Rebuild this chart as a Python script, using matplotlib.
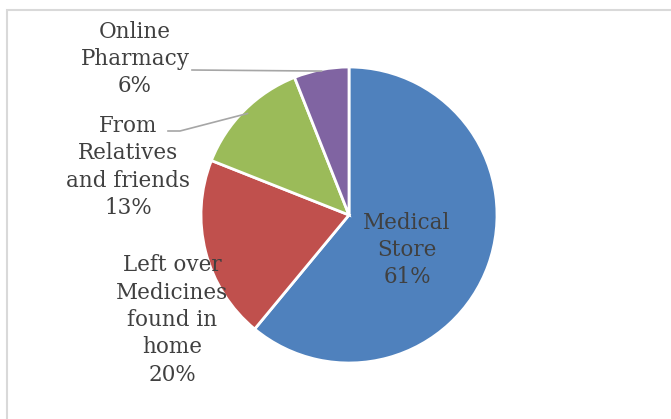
import matplotlib
matplotlib.use("Agg")
import matplotlib.pyplot as plt
import numpy as np
from matplotlib.patches import Rectangle

categories = ["Medical\nStore", "Left over\nMedicines\nfound in\nhome", "From\nRelatives\nand friends", "Online\nPharmacy"]
shares = [61, 20, 13, 6]
colors = ["#4F81BD", "#C0504D", "#9BBB59", "#8064A2"]

W, H = 671, 419
fig = plt.figure(figsize=(W / 100, H / 100), dpi=100)
ax = fig.add_axes([0, 0, 1, 1])

# light frame around the chart area
fig.patches.append(Rectangle((7 / W, -0.1), 1.2, 1 - 10 / H + 0.1, transform=fig.transFigure,
                             fill=False, edgecolor="#D9D9D9", linewidth=1.5))

cx, cy, r = 349, H - 215, 148
wedges, _ = ax.pie(shares, colors=colors, startangle=90, counterclock=False,
                   center=(cx, cy), radius=r, frame=True,
                   wedgeprops=dict(edgecolor="white", linewidth=2))
ax.set_xlim(0, W)
ax.set_ylim(0, H)
ax.set_aspect("equal")
ax.axis("off")

txt = dict(family="DejaVu Serif", fontsize=15.5, color="#404040",
           ha="center", va="center", linespacing=1.31)

# label anchors (pixel coords from top-left)
label_pos = [(407, 250), (172, 320), (128, 167), (135, 59)]
for lab, val, (x, y) in zip(categories, shares, label_pos):
    ax.text(x, H - y, f"{lab}\n{val}%", **txt)

# leader lines for the two small slices outside the pie
def mid_point(w, frac=1.0):
    a = np.deg2rad((w.theta1 + w.theta2) / 2)
    return cx + frac * r * np.cos(a), cy + frac * r * np.sin(a)

mx, my = mid_point(wedges[3], 0.99)
ax.plot([192, mx], [H - 70, my], color="#A6A6A6", lw=1.2)
gx, gy = mid_point(wedges[2], 0.97)
ax.plot([168, 180, gx], [H - 131, H - 131, gy], color="#A6A6A6", lw=1.2)

fig.savefig("out.png", dpi=100)
